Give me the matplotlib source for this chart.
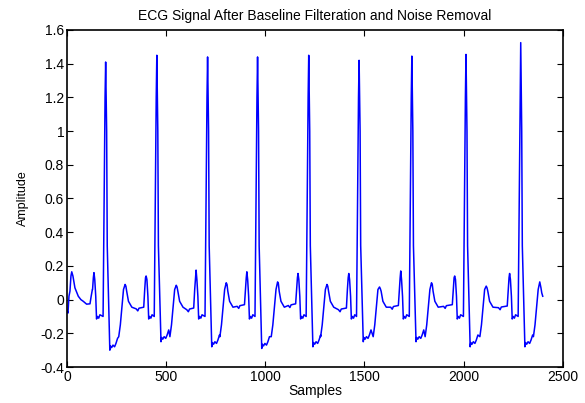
import numpy as np
import matplotlib.pyplot as plt

plt.rcParams['font.family'] = ['Liberation Sans', 'DejaVu Sans']

# values (samples / amplitude)
r_pos = [195, 453, 709, 961, 1219, 1473, 1739, 2012, 2288]
r_amp = [1.41, 1.45, 1.44, 1.44, 1.45, 1.42, 1.445, 1.455, 1.525]
s_amp = [-0.30, -0.25, -0.28, -0.29, -0.28, -0.25, -0.25, -0.28, -0.28]
t_pos = [293, 551, 803, 1062, 1311, 1576, 1838, 2114, 2384]
t_amp = [0.09, 0.085, 0.10, 0.105, 0.09, 0.075, 0.10, 0.08, 0.105]
p_pos = [136, 399, 651, 907, 1165, 1421, 1683, 1955, 2232]
p_amp = [0.16, 0.14, 0.175, 0.165, 0.155, 0.155, 0.17, 0.14, 0.155]
base = [-0.055, -0.06, -0.04, -0.035, -0.06, -0.045, -0.04, -0.048]

# start of record and tail after the last T wave
start_x = [0, 5, 10, 15, 20, 24, 30, 40, 57, 70, 82, 99, 116, 122, 128]
start_y = [-0.065, -0.08, 0.02, 0.05, 0.14, 0.165, 0.14, 0.07, 0.02, 0.0,
           -0.01, -0.027, -0.025, 0.02, 0.06]
end_x = [2390, 2394, 2399]
end_y = [0.07, 0.04, 0.02]


def p_wave(p, pa):
    xs = [p - 7, p - 3, p, p + 4, p + 9, p + 13, p + 18, p + 24, p + 30]
    ys = [0.06, 0.13, pa, 0.12, 0.02, -0.115, -0.10, -0.11, -0.09]
    return xs, ys


x, y = list(start_x), list(start_y)
n = len(r_pos)
for i in range(n):
    px, py = p_wave(p_pos[i], p_amp[i])
    x += px
    y += py
    r, s, t = r_pos[i], s_amp[i], t_pos[i]
    x += [r - 13, r - 3, r, r + 5, r + 8, r + 21, r + 24, r + 30, r + 37,
          r + 45, r + 52, r + 60]
    y += [-0.10, 1.20, r_amp[i], 1.00, 0.32, s, s + 0.025, s + 0.015,
          s + 0.03, s + 0.02, s + 0.04, s + 0.07]
    x += [t - 32, t - 24, t - 17, t - 8, t]
    y += [-0.22, -0.15, -0.06, 0.06, t_amp[i]]
    if i == n - 1:
        break
    x += [t + 4, t + 8, t + 17, t + 34]
    y += [t_amp[i] - 0.01, 0.05, -0.01, -0.045]
    mid = (t + 34 + p_pos[i + 1] - 12) // 2
    x += [mid - 8, mid, mid + 6, p_pos[i + 1] - 12]
    y += [base[i], base[i] - 0.012, base[i] + 0.004, base[i] + 0.01]
x += end_x
y += end_y

fig = plt.figure(figsize=(5.85, 4.03), dpi=100)
ax = fig.add_axes([0.1145, 0.0893, 0.8475, 0.8363])
ax.plot(x, y, color='#0000ff', linewidth=1.1)

ax.set_xlim(0, 2500)
ax.set_ylim(-0.4, 1.6)
ax.set_xticks(np.arange(0, 2501, 500))
ax.set_yticks(np.arange(-0.4, 1.61, 0.2))
ax.set_yticklabels(['-0.4', '-0.2', '0', '0.2', '0.4', '0.6', '0.8', '1',
                    '1.2', '1.4', '1.6'])
ax.tick_params(direction='in', top=True, right=True, length=4, width=0.8,
               labelsize=10, pad=2)
for sp in ax.spines.values():
    sp.set_linewidth(1.2)

ax.set_title('ECG Signal After Baseline Filteration and Noise Removal',
             fontsize=10, pad=7)
ax.set_xlabel('Samples', fontsize=10, labelpad=0)
ax.set_ylabel('Amplitude', fontsize=9, labelpad=8)

fig.savefig('out.png', dpi=100)
